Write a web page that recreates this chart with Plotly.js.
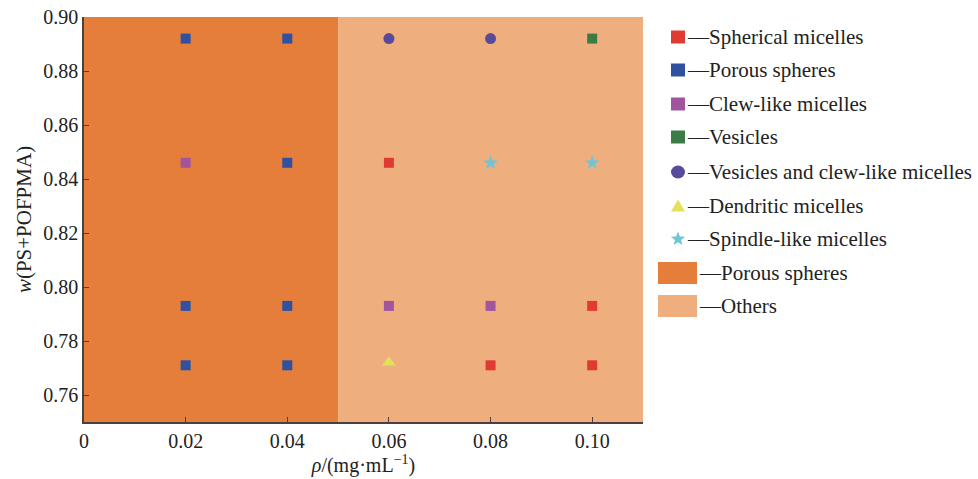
<!DOCTYPE html>
<html><head><meta charset="utf-8">
<script src="https://cdn.plot.ly/plotly-3.0.1.min.js"></script>
<style>body{margin:0;background:#fff}#chart{width:978px;height:479px}</style>
</head><body><div id="chart"></div>
<script>
// ---- data ----
const sphericalX = [0.06, 0.08, 0.10, 0.10];
const sphericalY = [0.846, 0.771, 0.793, 0.771];
const porousX = [0.02, 0.02, 0.02, 0.04, 0.04, 0.04, 0.04];
const porousY = [0.892, 0.793, 0.771, 0.892, 0.846, 0.793, 0.771];
const clewX = [0.02, 0.06, 0.08];
const clewY = [0.846, 0.793, 0.793];
const vesiclesX = [0.10];
const vesiclesY = [0.892];
const vesClewX = [0.06, 0.08];
const vesClewY = [0.892, 0.892];
const dendriticX = [0.06];
const dendriticY = [0.772];
const spindleX = [0.08, 0.10];
const spindleY = [0.846, 0.846];
const regionEdges = [0, 0.05, 0.11];
const regionNames = ["Porous spheres", "Others"];
const xTickVals = [0, 0.02, 0.04, 0.06, 0.08, 0.10, 0.11];
const xTickText = ["0", "0.02", "0.04", "0.06", "0.08", "0.10", ""];
const yTickVals = [0.75, 0.76, 0.78, 0.80, 0.82, 0.84, 0.86, 0.88, 0.90];
const yTickText = ["", "0.76", "0.78", "0.80", "0.82", "0.84", "0.86", "0.88", "0.90"];
const seriesNames = ["Spherical micelles", "Porous spheres", "Clew-like micelles", "Vesicles",
  "Vesicles and clew-like micelles", "Dendritic micelles", "Spindle-like micelles"];

// ---- styles ----
const FONT = "Liberation Serif, Times New Roman, serif";
const colors = ["#DF3B33", "#2F51A0", "#A2559F", "#3B7C46", "#5A4A9C", "#E3E05C", "#6DC5D5"];
const symbols = ["square", "square", "square", "square", "circle", "triangle-up", "star"];
const sizes = [10, 10, 10, 10, 11, 12, 11];
const regionColors = ["#E57E3A", "#EFAE7D"];

const xs = [sphericalX, porousX, clewX, vesiclesX, vesClewX, dendriticX, spindleX];
const ys = [sphericalY, porousY, clewY, vesiclesY, vesClewY, dendriticY, spindleY];

const traces = xs.map((x, i) => ({
  type: "scatter", mode: "markers", x: x, y: ys[i], name: seriesNames[i],
  marker: {symbol: symbols[i], size: sizes[i], color: colors[i], line: {width: 0}},
  showlegend: false, hoverinfo: "x+y+name"
}));

const L = 84, R = 643, T = 17, B = 422, W = 978, H = 479;
const pw = R - L, ph = B - T;
const px = p => (p - L) / pw;
const py = p => (B - p) / ph;

const shapes = [];
for (let i = 0; i < regionNames.length; i++) {
  shapes.push({type: "rect", xref: "x", yref: "paper", x0: regionEdges[i], x1: regionEdges[i + 1],
    y0: 0, y1: 1, fillcolor: regionColors[i], line: {width: 0}, layer: "below"});
}

// legend (custom)
const annotations = [];
const rowY = [37, 70, 104, 137, 172, 206, 239];
function starPath(r1, r2) {
  let d = "";
  for (let k = 0; k < 10; k++) {
    const r = k % 2 === 0 ? r1 : r2;
    const a = Math.PI / 2 + k * Math.PI / 5;
    d += (k === 0 ? "M" : "L") + (r * Math.cos(a)).toFixed(2) + "," + (r * Math.sin(a)).toFixed(2);
  }
  return d + "Z";
}
const LEGFONT = {family: FONT, size: 21, color: "#222"};
for (let i = 0; i < seriesNames.length; i++) {
  const cx = px(678), cy = py(rowY[i]);
  const base = {xref: "paper", yref: "paper", xsizemode: "pixel", ysizemode: "pixel",
    xanchor: cx, yanchor: cy, fillcolor: colors[i], line: {width: 0}};
  if (symbols[i] === "square") shapes.push(Object.assign({type: "rect", x0: -7, x1: 7, y0: -6.5, y1: 6.5}, base));
  else if (symbols[i] === "circle") shapes.push(Object.assign({type: "circle", x0: -7, x1: 7, y0: -6.5, y1: 6.5}, base));
  else if (symbols[i] === "triangle-up") shapes.push(Object.assign({type: "path", path: "M-7,-5.5L7,-5.5L0,6.5Z"}, base));
  else shapes.push(Object.assign({type: "path", path: starPath(7.5, 3.2)}, base));
  annotations.push({xref: "paper", yref: "paper", x: px(685), y: cy, xanchor: "left", yanchor: "middle",
    text: "—" + seriesNames[i], showarrow: false, font: LEGFONT});
}
const regY = [273, 306];
for (let i = 0; i < regionNames.length; i++) {
  shapes.push({type: "rect", xref: "paper", yref: "paper", x0: px(658), x1: px(697),
    y0: py(regY[i] + 11), y1: py(regY[i] - 11), fillcolor: regionColors[i], line: {width: 0}});
  annotations.push({xref: "paper", yref: "paper", x: px(697), y: py(regY[i]), xanchor: "left", yanchor: "middle",
    text: "—" + regionNames[i], showarrow: false, font: LEGFONT});
}

const axisCommon = {showgrid: false, zeroline: false, showline: true, linecolor: "#4a4040", linewidth: 1.5,
  ticks: "inside", ticklen: 5, tickwidth: 1.2, tickcolor: "#4a4040", tickmode: "array",
  tickfont: {family: FONT, size: 20, color: "#222"}};

const layout = {
  width: W, height: H, margin: {l: L, r: W - R, t: T, b: H - B},
  paper_bgcolor: "#fff", plot_bgcolor: "rgba(0,0,0,0)", showlegend: false,
  xaxis: Object.assign({}, axisCommon, {range: [0, 0.11], tickvals: xTickVals, ticktext: xTickText,
    title: {text: "<i>ρ</i>/(mg·mL<sup>−1</sup>)", font: {family: FONT, size: 20, color: "#222"}, standoff: 2}}),
  yaxis: Object.assign({}, axisCommon, {range: [0.75, 0.90], tickvals: yTickVals, ticktext: yTickText,
    title: {text: "<i>w</i>(PS+POFPMA)", font: {family: FONT, size: 21, color: "#222"}, standoff: 6}}),
  shapes: shapes, annotations: annotations
};
Plotly.newPlot("chart", traces, layout, {displayModeBar: false, responsive: false});
</script></body></html>
